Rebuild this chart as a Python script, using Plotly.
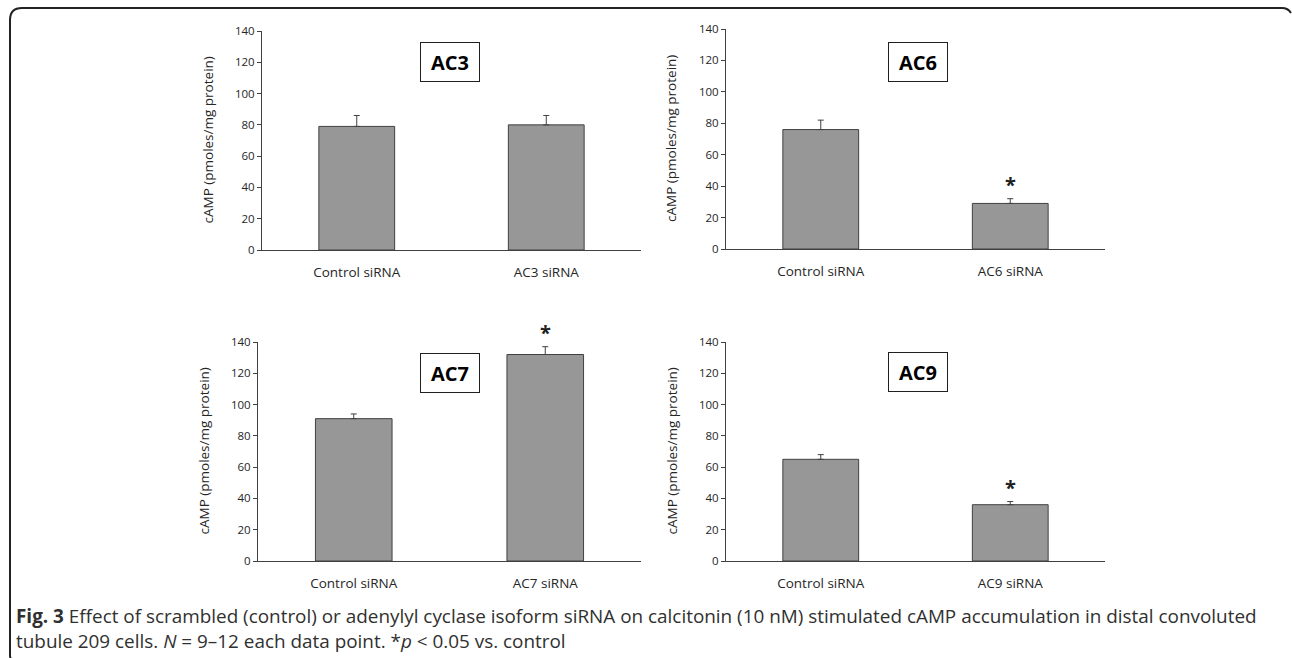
import plotly.graph_objects as go

W, H = 1292, 658

# ---- data ----
panel_names = ["AC3", "AC6", "AC7", "AC9"]
categories_ac3 = ["Control siRNA", "AC3 siRNA"]
categories_ac6 = ["Control siRNA", "AC6 siRNA"]
categories_ac7 = ["Control siRNA", "AC7 siRNA"]
categories_ac9 = ["Control siRNA", "AC9 siRNA"]
means_ac3 = [79, 80]
means_ac6 = [76, 29]
means_ac7 = [91, 132]
means_ac9 = [65, 36]
errors_ac3 = [7, 6]
errors_ac6 = [6, 3]
errors_ac7 = [3, 5]
errors_ac9 = [3, 2]
signif_ac3 = [False, False]
signif_ac6 = [False, True]
signif_ac7 = [False, True]
signif_ac9 = [False, True]
y_ticks = [0, 20, 40, 60, 80, 100, 120, 140]
y_title = "cAMP (pmoles/mg protein)"
caption_line1 = ("<b>Fig. 3</b> Effect of scrambled (control) or adenylyl cyclase isoform siRNA on "
                 "calcitonin (10 nM) stimulated cAMP accumulation in distal convoluted")
caption_line2 = "tubule 209 cells. <i>N</i> = 9–12 each data point. *<i>p</i> &lt; 0.05 vs. control"

cats = [categories_ac3, categories_ac6, categories_ac7, categories_ac9]
means = [means_ac3, means_ac6, means_ac7, means_ac9]
errs = [errors_ac3, errors_ac6, errors_ac7, errors_ac9]
sigs = [signif_ac3, signif_ac6, signif_ac7, signif_ac9]

# ---- layout in pixels (left, right, bottom(y=0), top(y=140)) ----
boxes = [(262, 641, 250, 31), (726, 1105, 249, 29), (258, 641, 561, 342), (726, 1105, 561, 342)]
label_boxes = [(450, 62), (917.5, 62), (450.5, 372.5), (917.5, 371.5)]

def px(x):
    return x / W

def py(y):
    return 1 - y / H

AX = "#404040"
TXT = "#262626"
FONT = "Open Sans"

fig = go.Figure()
layout = dict(width=W, height=H, margin=dict(l=0, r=0, t=0, b=0, autoexpand=False),
              plot_bgcolor="white", paper_bgcolor="white", showlegend=False,
              font=dict(family=FONT, color=AX))
annotations = []
shapes = []

for i in range(4):
    sfx = "" if i == 0 else str(i + 1)
    l, r, b, t = boxes[i]
    fig.add_trace(go.Bar(
        x=cats[i], y=means[i], width=0.4,
        marker=dict(color="#979797", line=dict(color=AX, width=1)),
        error_y=dict(type="data", symmetric=False, array=errs[i],
                     arrayminus=[0] * len(errs[i]), color=AX, thickness=1, width=3),
        xaxis="x" + sfx, yaxis="y" + sfx,
    ))
    layout["xaxis" + sfx] = dict(domain=[px(l), px(r)], anchor="y" + sfx,
                                 showline=True, linecolor=AX, linewidth=1,
                                 showgrid=False, ticks="", ticklabelstandoff=10,
                                 tickfont=dict(size=13.5, color=TXT, family=FONT),
                                 automargin=False, fixedrange=True)
    layout["yaxis" + sfx] = dict(domain=[py(b), py(t)], anchor="x" + sfx,
                                 range=[0, 140], tickvals=y_ticks,
                                 showline=True, linecolor=AX, linewidth=1,
                                 showgrid=False, zeroline=False,
                                 ticks="outside", ticklen=4, tickcolor=AX,
                                 tickfont=dict(size=11.5, color=TXT, family=FONT),
                                 automargin=False, fixedrange=True)
    # y axis title
    annotations.append(dict(x=px(l - 55), y=py((b + t) / 2), xref="paper", yref="paper",
                            text=y_title, textangle=-90, showarrow=False,
                            font=dict(size=13.5, color=TXT, family=FONT),
                            xanchor="center", yanchor="middle"))
    # panel label box
    cx, cy = label_boxes[i]
    annotations.append(dict(x=px(cx), y=py(cy), xref="paper", yref="paper",
                            text="<b>%s</b>" % panel_names[i], showarrow=False,
                            font=dict(size=20, color="black", family=FONT),
                            width=58, height=38, borderpad=0, borderwidth=1,
                            bordercolor="#202020", bgcolor="white",
                            xanchor="center", yanchor="middle"))
    # significance asterisks
    for c, m, e, s in zip(cats[i], means[i], errs[i], sigs[i]):
        if s:
            annotations.append(dict(x=c, y=m + e, xref="x" + sfx, yref="y" + sfx,
                                    text="<b>*</b>", showarrow=False, yshift=-1,
                                    font=dict(size=20, color="#202020", family=FONT),
                                    xanchor="center", yanchor="bottom"))

# caption (two lines)
annotations.append(dict(x=px(14), y=py(628), xref="paper", yref="paper",
                        text=caption_line1 + "<br>" + caption_line2,
                        showarrow=False, xanchor="left", yanchor="middle", align="left",
                        font=dict(size=18.9, color="#303030", family=FONT)))

# outer frame (decorative)
def P(x, y):
    return "%f,%f" % (px(x), py(y))

frame = ("M " + P(10, 656) + " Q " + P(10, 658) + " " + P(12, 660) +
         " M " + P(10, 656) + " L " + P(10, 20) + " Q " + P(10, 8) + " " + P(22, 8) +
         " L " + P(1282, 8) + " Q " + P(1288, 8) + " " + P(1291, 13))
shapes.append(dict(type="path", xref="paper", yref="paper", path=frame,
                   line=dict(color="#222222", width=2)))

layout["annotations"] = annotations
layout["shapes"] = shapes
fig.update_layout(**layout)
fig.write_html("out.html", config={"displayModeBar": False},
               post_script="document.body.style.margin='0';document.body.style.overflow='hidden';")
